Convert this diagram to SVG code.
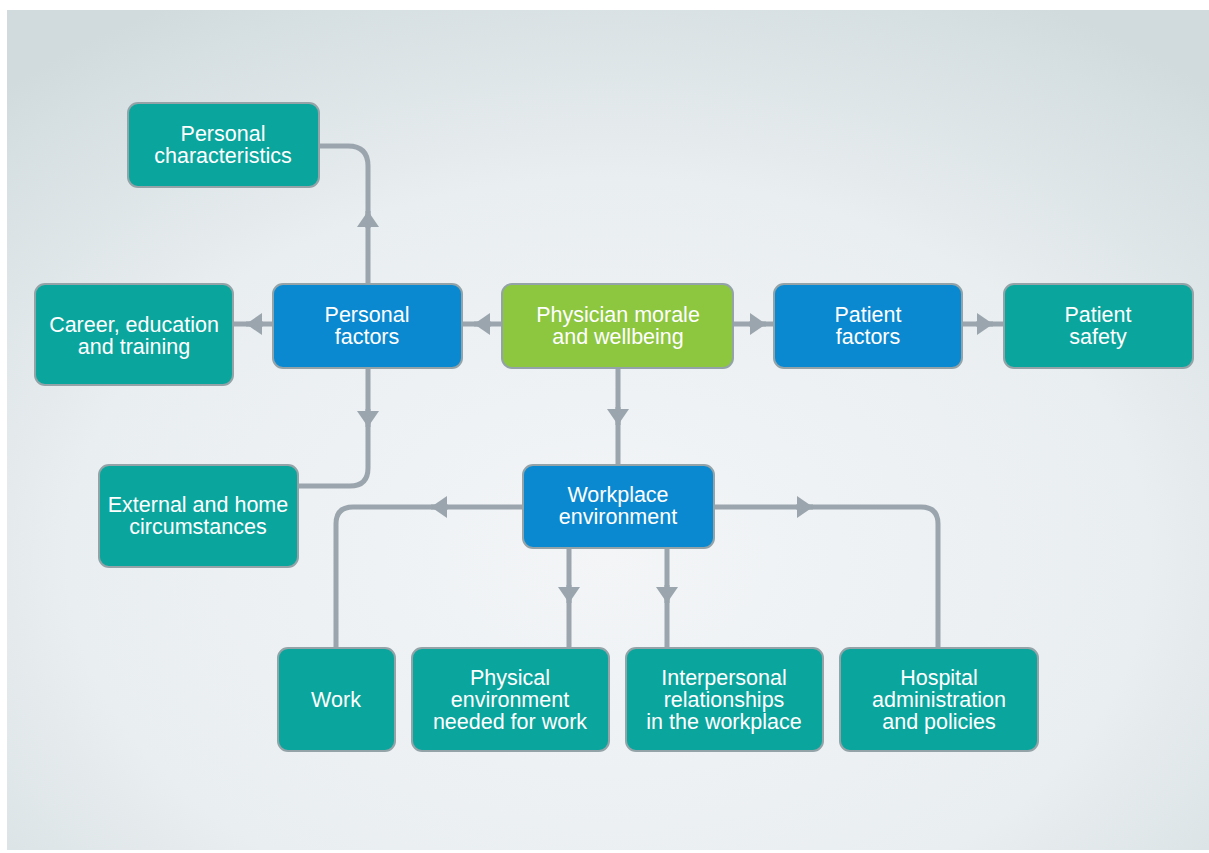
<svg xmlns="http://www.w3.org/2000/svg" width="1209" height="853" viewBox="0 0 1209 853">
<style>
.box{stroke:#93a3a8;stroke-width:2}
.teal{fill:#0aa69d}
.blue{fill:#0b89d0}
.green{fill:#8dc63f}
.lbl{font-family:"Liberation Sans",Arial,sans-serif;font-size:21.5px;fill:#ffffff;text-anchor:middle}
.con{fill:none;stroke:#9aa5ad;stroke-width:5}
</style>
<defs>
<radialGradient id="bg" cx="50%" cy="65%" r="75%">
<stop offset="0" stop-color="#f3f5f7"/>
<stop offset="0.6" stop-color="#e9eef0"/>
<stop offset="1" stop-color="#d1dbde"/>
</radialGradient>
<marker id="ah" viewBox="0 0 16 22" refX="16" refY="11" markerWidth="16" markerHeight="22" markerUnits="userSpaceOnUse" orient="auto">
<path d="M0,0 L16,11 L0,22 z" fill="#9aa5ad"/>
</marker>
</defs>
<rect x="0" y="0" width="1209" height="853" fill="#ffffff"/>
<rect x="7" y="10" width="1202" height="840" fill="url(#bg)"/>

<g id="connectors">
<path class="con" d="M368 284 V166 Q368 146 348 146 H319"/>
<path class="con" d="M368 228 L368 211" marker-end="url(#ah)"/>
<path class="con" d="M273 324 H233"/>
<path class="con" d="M263 324 L246 324" marker-end="url(#ah)"/>
<path class="con" d="M502 324 H462"/>
<path class="con" d="M491 324 L474 324" marker-end="url(#ah)"/>
<path class="con" d="M733 324 H774"/>
<path class="con" d="M749 324 L766 324" marker-end="url(#ah)"/>
<path class="con" d="M962 324 H1004"/>
<path class="con" d="M976 324 L993 324" marker-end="url(#ah)"/>
<path class="con" d="M368 368 V468 Q368 486 350 486 H298"/>
<path class="con" d="M368 409 L368 427" marker-end="url(#ah)"/>
<path class="con" d="M618 368 V465"/>
<path class="con" d="M618 407 L618 425" marker-end="url(#ah)"/>
<path class="con" d="M523 507 H353 Q336 507 336 524 V648"/>
<path class="con" d="M448 507 L431 507" marker-end="url(#ah)"/>
<path class="con" d="M714 507 H921 Q938 507 938 524 V648"/>
<path class="con" d="M796 507 L813 507" marker-end="url(#ah)"/>
<path class="con" d="M569 548 V648"/>
<path class="con" d="M569 585 L569 603" marker-end="url(#ah)"/>
<path class="con" d="M667 548 V648"/>
<path class="con" d="M667 585 L667 603" marker-end="url(#ah)"/>
</g>

<g id="personal-characteristics">
<rect class="box teal" x="128" y="103" width="191" height="84" rx="10"/>
<text class="lbl" x="223" y="141">Personal</text>
<text class="lbl" x="223" y="163">characteristics</text>
</g>
<g id="career">
<rect class="box teal" x="35" y="284" width="198" height="101" rx="10"/>
<text class="lbl" x="134" y="332">Career, education</text>
<text class="lbl" x="134" y="354">and training</text>
</g>
<g id="personal-factors">
<rect class="box blue" x="273" y="284" width="189" height="84" rx="10"/>
<text class="lbl" x="367" y="322">Personal</text>
<text class="lbl" x="367" y="344">factors</text>
</g>
<g id="physician">
<rect class="box green" x="502" y="284" width="231" height="84" rx="10"/>
<text class="lbl" x="618" y="322">Physician morale</text>
<text class="lbl" x="618" y="344">and wellbeing</text>
</g>
<g id="patient-factors">
<rect class="box blue" x="774" y="284" width="188" height="84" rx="10"/>
<text class="lbl" x="868" y="322">Patient</text>
<text class="lbl" x="868" y="344">factors</text>
</g>
<g id="patient-safety">
<rect class="box teal" x="1004" y="284" width="189" height="84" rx="10"/>
<text class="lbl" x="1098" y="322">Patient</text>
<text class="lbl" x="1098" y="344">safety</text>
</g>
<g id="external">
<rect class="box teal" x="99" y="465" width="199" height="102" rx="10"/>
<text class="lbl" x="198" y="512">External and home</text>
<text class="lbl" x="198" y="534">circumstances</text>
</g>
<g id="workplace">
<rect class="box blue" x="523" y="465" width="191" height="83" rx="10"/>
<text class="lbl" x="618" y="502">Workplace</text>
<text class="lbl" x="618" y="524">environment</text>
</g>
<g id="work">
<rect class="box teal" x="278" y="648" width="117" height="103" rx="10"/>
<text class="lbl" x="336" y="707">Work</text>
</g>
<g id="physical">
<rect class="box teal" x="412" y="648" width="197" height="103" rx="10"/>
<text class="lbl" x="510" y="685">Physical</text>
<text class="lbl" x="510" y="707">environment</text>
<text class="lbl" x="510" y="729">needed for work</text>
</g>
<g id="interpersonal">
<rect class="box teal" x="626" y="648" width="197" height="103" rx="10"/>
<text class="lbl" x="724" y="685">Interpersonal</text>
<text class="lbl" x="724" y="707">relationships</text>
<text class="lbl" x="724" y="729">in the workplace</text>
</g>
<g id="hospital">
<rect class="box teal" x="840" y="648" width="198" height="103" rx="10"/>
<text class="lbl" x="939" y="685">Hospital</text>
<text class="lbl" x="939" y="707">administration</text>
<text class="lbl" x="939" y="729">and policies</text>
</g>
</svg>
